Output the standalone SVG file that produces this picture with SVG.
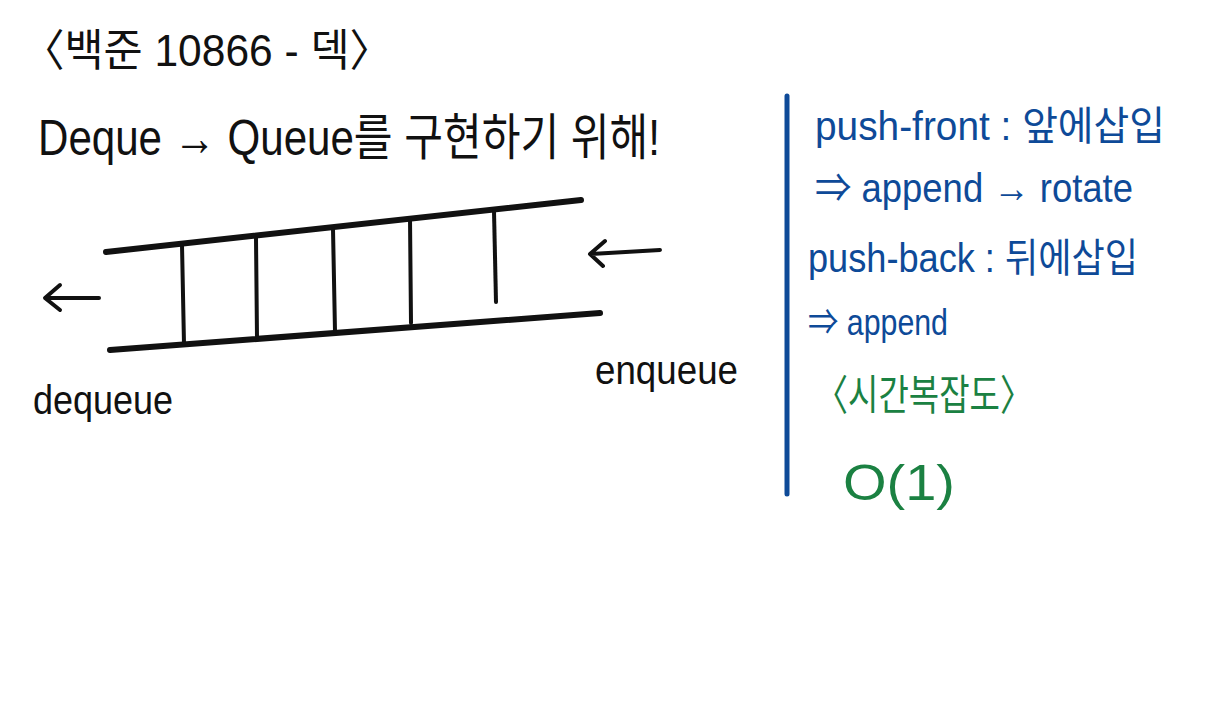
<svg xmlns="http://www.w3.org/2000/svg" width="1229" height="712" viewBox="0 0 1229 712">
<style>
text{font-family:"Liberation Sans","Noto Sans CJK KR",sans-serif;}
.k{fill:#111;}
.b{fill:#0e4a98;}
.g{fill:#1b8142;}
.rail{stroke:#111;stroke-width:6;stroke-linecap:round;fill:none;}
.rung{stroke:#111;stroke-width:4;stroke-linecap:round;fill:none;}
.arr{stroke:#111;stroke-width:4;stroke-linecap:round;stroke-linejoin:round;fill:none;}
</style>
<rect width="1229" height="712" fill="#fff"/>
<g id="title"><text class="k" x="22" y="66" font-size="44" textLength="370" lengthAdjust="spacingAndGlyphs">〈백준 10866 - 덱〉</text></g>
<g id="subtitle"><text class="k" x="38" y="155" font-size="50" textLength="622" lengthAdjust="spacingAndGlyphs">Deque → Queue를 구현하기 위해!</text></g>
<g id="deque-shape">
<line class="rail" x1="106" y1="252" x2="581" y2="200"/>
<line class="rail" x1="110" y1="350" x2="600" y2="313"/>
<line class="rung" x1="182" y1="245" x2="184" y2="344"/>
<line class="rung" x1="256" y1="238" x2="257" y2="337"/>
<line class="rung" x1="333" y1="229" x2="335" y2="331"/>
<line class="rung" x1="410" y1="218" x2="411" y2="323"/>
<line class="rung" x1="494" y1="211" x2="496" y2="302"/>
</g>
<g id="connectors">
<path class="arr" d="M99 298 H46 M60 285 L45 298 L60 310"/>
<path class="arr" d="M660 250 L591 254 M605 241 L590 254 L603 266"/>
</g>
<g id="dequeue-label"><text class="k" x="33" y="414" font-size="40" textLength="140" lengthAdjust="spacingAndGlyphs">dequeue</text></g>
<g id="enqueue-label"><text class="k" x="595" y="384" font-size="40" textLength="143" lengthAdjust="spacingAndGlyphs">enqueue</text></g>
<g id="divider"><line x1="787" y1="96" x2="787" y2="494" stroke="#0e4a98" stroke-width="5" stroke-linecap="round"/></g>
<g id="notes">
<text class="b" x="815" y="140" font-size="40" textLength="350" lengthAdjust="spacingAndGlyphs">push-front : 앞에삽입</text>
<text class="b" x="815" y="202" font-size="40" textLength="318" lengthAdjust="spacingAndGlyphs">⇒ append → rotate</text>
<text class="b" x="808" y="272" font-size="40" textLength="330" lengthAdjust="spacingAndGlyphs">push-back : 뒤에삽입</text>
<text class="b" x="808" y="335" font-size="36" textLength="140" lengthAdjust="spacingAndGlyphs">⇒ append</text>
</g>
<g id="complexity">
<text class="g" x="815" y="410" font-size="42" textLength="218" lengthAdjust="spacingAndGlyphs">〈시간복잡도〉</text>
<text class="g" x="843" y="500" font-size="50" textLength="112" lengthAdjust="spacingAndGlyphs">O(1)</text>
</g>
</svg>
